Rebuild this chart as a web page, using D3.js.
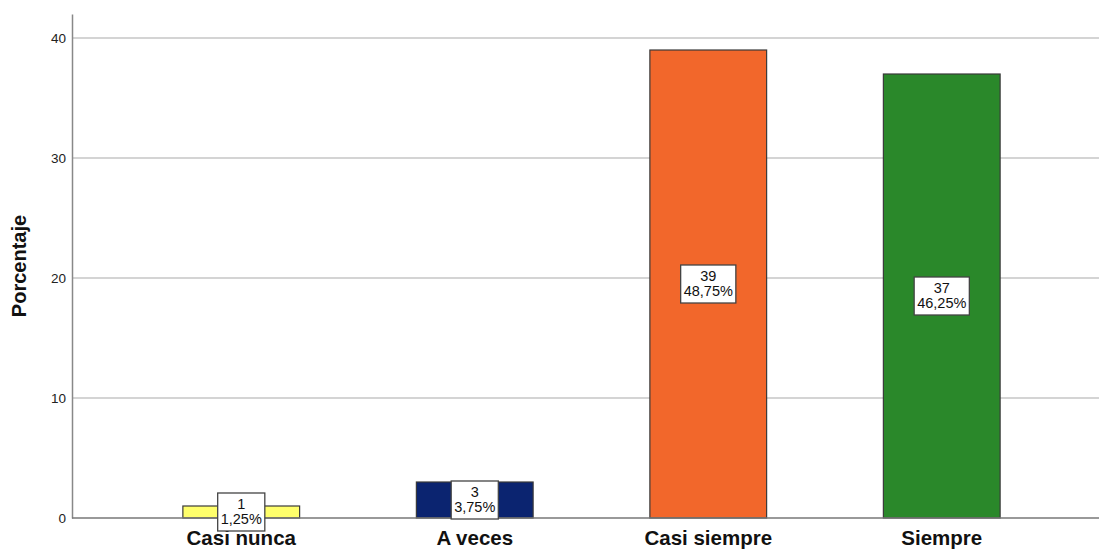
<!DOCTYPE html>
<html><head><meta charset="utf-8">
<script src="https://cdn.jsdelivr.net/npm/d3@7"></script>
<style>body{margin:0;background:#fff}svg{display:block}text{font-family:Arial,"Liberation Sans",sans-serif}</style>
</head><body>
<svg id="c" width="1099" height="549"></svg>
<script>
const categories = ["Casi nunca", "A veces", "Casi siempre", "Siempre"];
const counts = [1, 3, 39, 37];
const percents = [1.25, 3.75, 48.75, 46.25];
const colors = ["#ffff6b", "#0b2470", "#f2672b", "#2a882a"];
const yTicks = [0, 10, 20, 30, 40];

const svg = d3.select("#c");
const x = d3.scaleBand().domain(categories).range([124.5, 1058.5]).paddingInner(0.5).paddingOuter(0.25);
const y = d3.scaleLinear().domain([0, 42]).range([518, 14]);
const left = 72, right = 1099;

// gridlines
svg.append("g").selectAll("line").data(yTicks.filter(d => d > 0)).join("line")
  .attr("x1", left).attr("x2", right).attr("y1", d => y(d)).attr("y2", d => y(d))
  .attr("stroke", "#d4d4d4").attr("stroke-width", 2);

// y axis
const ya = svg.append("g").attr("transform", `translate(${left},0)`)
  .call(d3.axisLeft(y).tickValues(yTicks).tickSize(0).tickPadding(6));
ya.select(".domain").attr("stroke", "#888").attr("stroke-width", 1.5);
ya.selectAll("text").attr("font-size", 13.5).attr("fill", "#222");

// bars
const data = categories.map((c, i) => ({c, n: counts[i], p: percents[i], col: colors[i]}));
svg.append("g").selectAll("rect").data(data).join("rect")
  .attr("x", d => x(d.c)).attr("width", x.bandwidth())
  .attr("y", d => y(d.n)).attr("height", d => y(0) - y(d.n))
  .attr("fill", d => d.col).attr("stroke", "#3a3a3a").attr("stroke-width", 1.2);

// x axis baseline
svg.append("line").attr("x1", left).attr("x2", right).attr("y1", y(0)).attr("y2", y(0))
  .attr("stroke", "#777").attr("stroke-width", 1.5);
const xa = svg.append("g").attr("transform", `translate(0,${y(0)})`)
  .call(d3.axisBottom(x).tickSize(0).tickPadding(12));
xa.select(".domain").remove();
xa.selectAll("text").attr("font-size", 20.5).attr("font-weight", "bold").attr("fill", "#111");

// labels
const lab = svg.append("g").selectAll("g").data(data).join("g")
  .attr("transform", d => `translate(${x(d.c) + x.bandwidth()/2},${y(d.n/2)})`);
const box = lab.append("rect").attr("y", -19).attr("height", 38)
  .attr("fill", "#fff").attr("stroke", "#444").attr("stroke-width", 1.3);
lab.append("text").attr("text-anchor", "middle").attr("y", -3).attr("font-size", 14.5).attr("fill", "#111")
  .text(d => d.n);
const pt = lab.append("text").attr("text-anchor", "middle").attr("y", 12).attr("font-size", 14.5).attr("fill", "#111")
  .text(d => d.p.toFixed(2).replace(".", ",") + "%");
pt.each(function(d) { d.w = this.getComputedTextLength() + 6; });
box.attr("x", d => -d.w/2).attr("width", d => d.w);

// y title
svg.append("text").attr("transform", `translate(26,${(y(0)+y(42))/2}) rotate(-90)`)
  .attr("text-anchor", "middle").attr("font-size", 20).attr("font-weight", "bold").attr("fill", "#111")
  .text("Porcentaje");
</script>
</body></html>
